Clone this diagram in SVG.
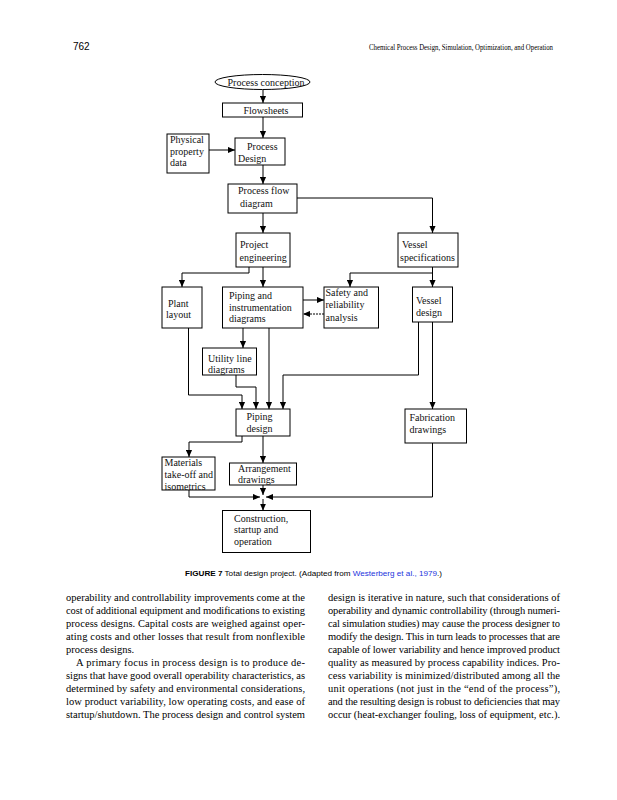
<svg xmlns="http://www.w3.org/2000/svg" width="617" height="800" viewBox="0 0 617 800">
<defs>
<style>
.bx{fill:#fff;stroke:#000;stroke-width:1}
.t{font-family:"Liberation Serif",serif;font-size:10px;fill:#111}
.c{fill:none;stroke:#000;stroke-width:1}
.body{font-family:"Liberation Serif",serif;font-size:10.5px;fill:#000}
.cap{font-family:"Liberation Sans",Arial,sans-serif;font-size:8px;fill:#000}
</style>
<marker id="ah" viewBox="0 0 8 8" refX="8" refY="4" markerWidth="7" markerHeight="7" markerUnits="userSpaceOnUse" orient="auto"><path d="M0,0.5 L8,4 L0,7.5 z" fill="#000"/></marker>
</defs>
<rect width="617" height="800" fill="#fff"/>
<text x="73" y="50" font-family="Liberation Sans, Arial, sans-serif" font-size="10">762</text>
<text x="553" y="50" text-anchor="end" font-family="Liberation Serif, serif" font-size="8.5" textLength="184" lengthAdjust="spacingAndGlyphs">Chemical Process Design, Simulation, Optimization, and Operation</text>

<g id="connectors">
<path class="c" d="M263,89.5 V103" marker-end="url(#ah)"/>
<path class="c" d="M263,117 V138" marker-end="url(#ah)"/>
<path class="c" d="M209,150 H235" marker-end="url(#ah)"/>
<path class="c" d="M263,165 V184" marker-end="url(#ah)"/>
<path class="c" d="M297,198 H432.5 V233" marker-end="url(#ah)"/>
<path class="c" d="M263,213 V233" marker-end="url(#ah)"/>
<path class="c" d="M249,267 V273 H182 V287" marker-end="url(#ah)"/>
<path class="c" d="M263,267 V287" marker-end="url(#ah)"/>
<path class="c" d="M432.5,267 V287" marker-end="url(#ah)"/>
<path class="c" d="M432.5,273 H350 V287" marker-end="url(#ah)"/>
<path class="c" d="M303,300 H324" marker-end="url(#ah)"/>
<path class="c" d="M324,314 H303" stroke-dasharray="2,1" marker-end="url(#ah)"/>
<path class="c" d="M243,328 V348" marker-end="url(#ah)"/>
<path class="c" d="M188.5,328 V395 H242 V409" marker-end="url(#ah)"/>
<path class="c" d="M236,375 V387 H256 V409" marker-end="url(#ah)"/>
<path class="c" d="M269,328 V409" marker-end="url(#ah)"/>
<path class="c" d="M418.5,322 V375 H283 V409" marker-end="url(#ah)"/>
<path class="c" d="M432.5,322 V409" marker-end="url(#ah)"/>
<path class="c" d="M242,436 V442 H189 V457" marker-end="url(#ah)"/>
<path class="c" d="M263,436 V463" marker-end="url(#ah)"/>
<path class="c" d="M263,485 V495" marker-end="url(#ah)"/>
<path class="c" d="M189,490 V497 H260" marker-end="url(#ah)"/>
<path class="c" d="M432.5,443 V497 H266" marker-end="url(#ah)"/>
<path class="c" d="M263,499 V510.5" marker-end="url(#ah)"/>
</g>

<g id="n-conception"><ellipse class="bx" cx="262.5" cy="82" rx="47.5" ry="7.5"/><text class="t" x="266" y="85.5" text-anchor="middle">Process conception</text></g>
<g id="n-flowsheets"><rect class="bx" x="222.5" y="103" width="80" height="14"/><text class="t" x="266" y="113.5" text-anchor="middle">Flowsheets</text></g>
<g id="n-physical"><rect class="bx" x="167" y="134" width="42" height="39"/><text class="t" x="170" y="143">Physical</text><text class="t" x="170" y="154.5">property</text><text class="t" x="170" y="166">data</text></g>
<g id="n-process-design"><rect class="bx" x="235" y="138" width="50" height="27"/><text class="t" x="247" y="150">Process</text><text class="t" x="238" y="161.5">Design</text></g>
<g id="n-pfd"><rect class="bx" x="228" y="184" width="69" height="29"/><text class="t" x="238" y="194">Process flow</text><text class="t" x="240" y="207">diagram</text></g>
<g id="n-project"><rect class="bx" x="236" y="233" width="54" height="34"/><text class="t" x="240" y="248">Project</text><text class="t" x="239.5" y="260.5">engineering</text></g>
<g id="n-vessel-spec"><rect class="bx" x="398" y="233" width="60" height="34"/><text class="t" x="402" y="248">Vessel</text><text class="t" x="400" y="260.5">specifications</text></g>
<g id="n-plant"><rect class="bx" x="162" y="287" width="40" height="41"/><text class="t" x="168" y="306.5">Plant</text><text class="t" x="166" y="318">layout</text></g>
<g id="n-pid"><rect class="bx" x="222.5" y="287" width="80.5" height="41"/><text class="t" x="229" y="299">Piping and</text><text class="t" x="229" y="310.5">instrumentation</text><text class="t" x="229" y="322">diagrams</text></g>
<g id="n-safety"><rect class="bx" x="324" y="287" width="54.5" height="41"/><text class="t" x="325.5" y="296">Safety and</text><text class="t" x="325.5" y="308">reliability</text><text class="t" x="325.5" y="320.5">analysis</text></g>
<g id="n-vessel-design"><rect class="bx" x="412.5" y="287" width="40" height="35"/><text class="t" x="416" y="304">Vessel</text><text class="t" x="416" y="316">design</text></g>
<g id="n-utility"><rect class="bx" x="202.5" y="348" width="54" height="27"/><text class="t" x="208" y="361.5">Utility line</text><text class="t" x="208" y="373">diagrams</text></g>
<g id="n-piping-design"><rect class="bx" x="236" y="409" width="54" height="27"/><text class="t" x="246.5" y="420">Piping</text><text class="t" x="246.5" y="431.5">design</text></g>
<g id="n-fabrication"><rect class="bx" x="405" y="409" width="61.5" height="34"/><text class="t" x="409.5" y="421">Fabrication</text><text class="t" x="409.5" y="432.5">drawings</text></g>
<g id="n-materials"><rect class="bx" x="162" y="457" width="53" height="33"/><text class="t" x="164.5" y="466">Materials</text><text class="t" x="164.5" y="478">take-off and</text><text class="t" x="164.5" y="490">isometrics</text></g>
<g id="n-arrangement"><rect class="bx" x="229.5" y="463" width="67" height="22"/><text class="t" x="238" y="471.5">Arrangement</text><text class="t" x="238" y="483">drawings</text></g>
<g id="n-construction"><rect class="bx" x="222.5" y="510.5" width="88" height="42"/><text class="t" x="234" y="521.5">Construction,</text><text class="t" x="234" y="533">startup and</text><text class="t" x="234" y="545">operation</text></g>

<text class="cap" x="185" y="576" textLength="257" lengthAdjust="spacingAndGlyphs"><tspan font-weight="bold">FIGURE 7</tspan>   Total design project. (Adapted from <tspan fill="#2233dd">Westerberg et al., 1979</tspan>.)</text>

<g class="body">
<text x="66" y="601" textLength="239" lengthAdjust="spacing">operability and controllability improvements come at the</text>
<text x="66" y="614" textLength="239" lengthAdjust="spacing">cost of additional equipment and modifications to existing</text>
<text x="66" y="627" textLength="239" lengthAdjust="spacing">process designs. Capital costs are weighed against oper-</text>
<text x="66" y="640" textLength="239" lengthAdjust="spacing">ating costs and other losses that result from nonflexible</text>
<text x="66" y="653">process designs.</text>
<text x="76" y="666" textLength="229" lengthAdjust="spacing">A primary focus in process design is to produce de-</text>
<text x="66" y="679" textLength="239" lengthAdjust="spacing">signs that have good overall operability characteristics, as</text>
<text x="66" y="692" textLength="239" lengthAdjust="spacing">determined by safety and environmental considerations,</text>
<text x="66" y="705" textLength="239" lengthAdjust="spacing">low product variability, low operating costs, and ease of</text>
<text x="66" y="718" textLength="239" lengthAdjust="spacing">startup/shutdown. The process design and control system</text>
<text x="328" y="601" textLength="232" lengthAdjust="spacing">design is iterative in nature, such that considerations of</text>
<text x="328" y="614" textLength="232" lengthAdjust="spacing">operability and dynamic controllability (through numeri-</text>
<text x="328" y="627" textLength="232" lengthAdjust="spacing">cal simulation studies) may cause the process designer to</text>
<text x="328" y="640" textLength="232" lengthAdjust="spacing">modify the design. This in turn leads to processes that are</text>
<text x="328" y="653" textLength="232" lengthAdjust="spacing">capable of lower variability and hence improved product</text>
<text x="328" y="666" textLength="232" lengthAdjust="spacing">quality as measured by process capability indices. Pro-</text>
<text x="328" y="679" textLength="232" lengthAdjust="spacing">cess variability is minimized/distributed among all the</text>
<text x="328" y="692" textLength="232" lengthAdjust="spacing">unit operations (not just in the “end of the process”),</text>
<text x="328" y="705" textLength="232" lengthAdjust="spacing">and the resulting design is robust to deficiencies that may</text>
<text x="328" y="718" textLength="232" lengthAdjust="spacing">occur (heat-exchanger fouling, loss of equipment, etc.).</text>
</g>
</svg>
